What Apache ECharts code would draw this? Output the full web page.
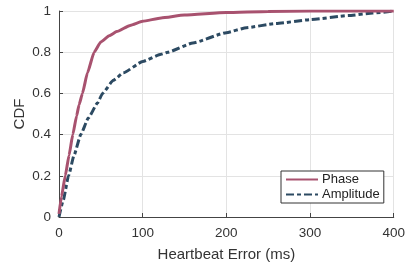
<!DOCTYPE html>
<html><head><meta charset="utf-8">
<script src="https://cdn.jsdelivr.net/npm/echarts@6/dist/echarts.min.js"></script>
<style>html,body{margin:0;padding:0;background:#fff}#c{width:408px;height:267px}</style>
</head><body><div id="c"></div>
<script>
const xTicks = [0, 100, 200, 300, 400];
const yTicks = [0, 0.2, 0.4, 0.6, 0.8, 1];
const phaseX = [0, 3, 7.5, 12, 16.5, 21, 24, 28, 34, 42, 50, 60, 69, 85, 100, 122, 150, 200, 250, 300, 400];
const phaseY = [0.015, 0.1, 0.2, 0.3, 0.4, 0.49, 0.545, 0.6, 0.7, 0.8, 0.85, 0.88, 0.9, 0.93, 0.95, 0.966, 0.98, 0.993, 0.998, 1.0, 1.0];
const ampX = [0, 5, 11.4, 18, 26, 35, 46, 52, 65, 77, 100, 122, 130, 160, 200, 224, 259, 300, 346, 375, 400];
const ampY = [0, 0.08, 0.2, 0.3, 0.4, 0.48, 0.553, 0.6, 0.664, 0.7, 0.755, 0.79, 0.8, 0.845, 0.895, 0.919, 0.939, 0.958, 0.978, 0.99, 1.0];
const seriesNames = ['Phase', 'Amplitude'];

const chart = echarts.init(document.getElementById('c'), null, {renderer: 'canvas'});
const font = 'Liberation Sans, Arial, sans-serif';
chart.setOption({
  animation: false,
  backgroundColor: '#fff',
  grid: {left: 59, right: 9, top: 11, bottom: 46},
  legend: {
    data: seriesNames,
    orient: 'vertical',
    left: 281, top: 171,
    padding: [2, 4, 2, 4],
    itemGap: 2,
    itemWidth: 32, itemHeight: 14,
    itemStyle: {opacity: 0},
    backgroundColor: '#fff',
    borderColor: '#333', borderWidth: 1, borderRadius: 0,
    textStyle: {fontFamily: font, fontSize: 13, color: '#222', padding: [0, 0, 0, -1]}
  },
  xAxis: {
    type: 'value', min: xTicks[0], max: xTicks[xTicks.length - 1], interval: 100,
    name: 'Heartbeat Error (ms)', nameLocation: 'middle', nameGap: 30, nameMoveOverlap: false,
    nameTextStyle: {fontFamily: font, fontSize: 15, color: '#333'},
    axisLine: {show: true, lineStyle: {color: '#444', width: 1}},
    axisTick: {show: true, inside: true, length: 4, lineStyle: {color: '#444'}},
    axisLabel: {fontFamily: font, fontSize: 13.5, color: '#333', margin: 9},
    splitLine: {show: true, lineStyle: {color: '#e3e3e3', width: 1}}
  },
  yAxis: {
    type: 'value', min: yTicks[0], max: yTicks[yTicks.length - 1], interval: 0.2,
    name: 'CDF', nameLocation: 'middle', nameGap: 32, nameRotate: 90, nameMoveOverlap: false,
    nameTextStyle: {fontFamily: font, fontSize: 15, color: '#333'},
    axisLine: {show: true, lineStyle: {color: '#444', width: 1}},
    axisTick: {show: true, inside: true, length: 4, lineStyle: {color: '#444'}},
    axisLabel: {fontFamily: font, fontSize: 13.5, color: '#333', margin: 8,
      formatter: v => (Math.round(v * 10) / 10).toString()},
    splitLine: {show: true, lineStyle: {color: '#e3e3e3', width: 1}}
  },
  series: [
    {
      name: seriesNames[0], type: 'line', symbol: 'none', smooth: 0.15, smoothMonotone: 'x',
      data: phaseX.map((x, i) => [x, phaseY[i]]),
      lineStyle: {color: '#A8526F', width: 3},
      itemStyle: {color: '#A8526F'}, z: 3
    },
    {
      name: seriesNames[1], type: 'line', symbol: 'none', smooth: 0.15, smoothMonotone: 'x',
      data: ampX.map((x, i) => [x, ampY[i]]),
      lineStyle: {color: '#2C4A62', width: 3, type: [8, 3, 4, 3]},
      itemStyle: {color: '#2C4A62'}, z: 2
    }
  ]
});
</script></body></html>
